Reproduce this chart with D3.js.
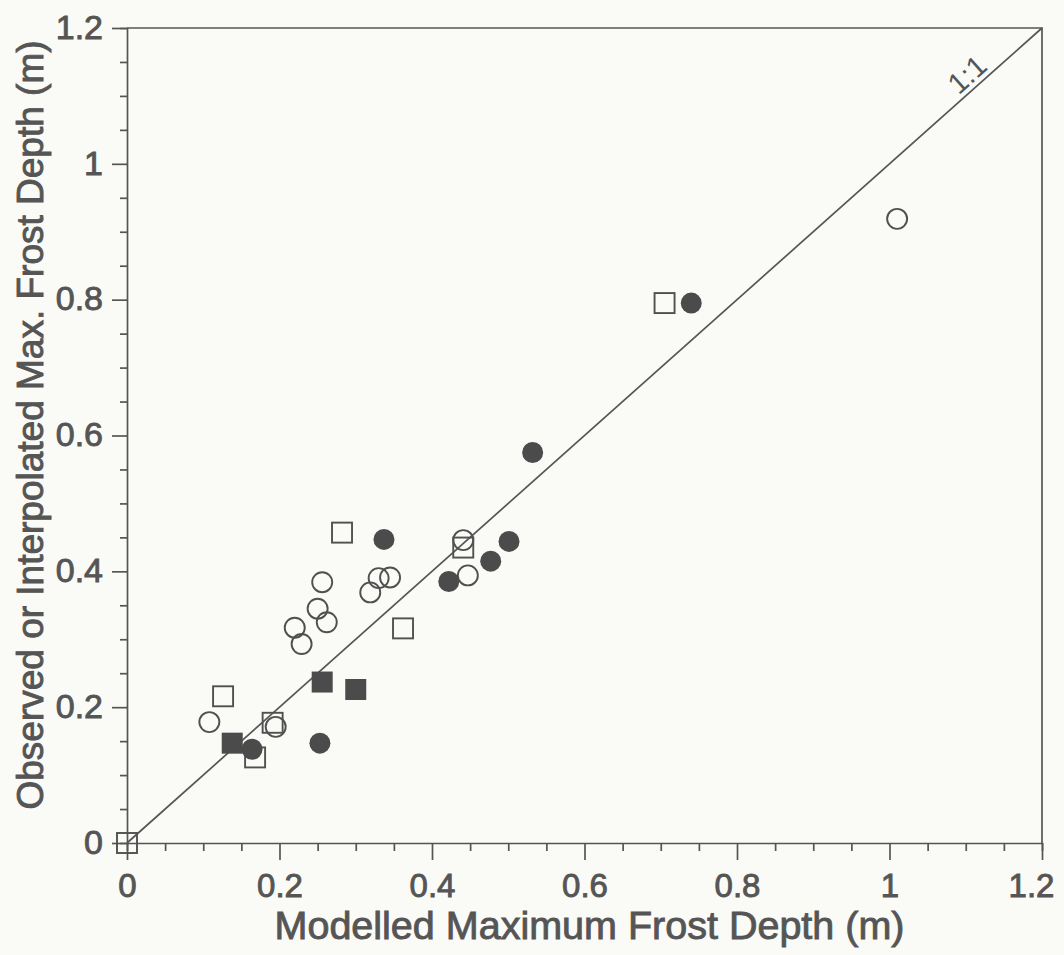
<!DOCTYPE html>
<html lang="en">
<head>
  <meta charset="utf-8">
  <title>Modelled vs observed frost depth</title>
  <script src="https://cdn.jsdelivr.net/npm/d3@7"></script>
</head>
<body>
  <div id="chart"></div>

<style>
body {
  margin: 0;
  background: #fafaf7;
}
svg text {
  font-family: "Liberation Sans", Arial, sans-serif;
  fill: #555;
}
.heavy {
  stroke: #555;
  stroke-width: 0.9;
}
.axis path, .axis line, .frame {
  stroke: #555;
  stroke-width: 1.7;
  fill: none;
}
.open {
  fill: none;
  stroke: #505050;
  stroke-width: 1.9;
}
.filled {
  fill: #4b4b4b;
  stroke: none;
}
</style>

<script>
"use strict"

// [modelled, observed] pairs in metres
var openCircles = [[0.108, 0.178], [0.195, 0.171], [0.220, 0.317], [0.229, 0.293], [0.250, 0.345],
  [0.256, 0.384], [0.262, 0.325], [0.319, 0.369], [0.330, 0.390], [0.345, 0.391],
  [0.441, 0.446], [0.447, 0.394], [1.010, 0.919]];
var filledCircles = [[0.164, 0.138], [0.253, 0.147], [0.337, 0.447], [0.422, 0.385],
  [0.477, 0.415], [0.501, 0.444], [0.532, 0.575], [0.740, 0.795]];
var openSquares = [[0, 0], [0.126, 0.216], [0.168, 0.126], [0.191, 0.177], [0.282, 0.457],
  [0.362, 0.316], [0.441, 0.435], [0.705, 0.795]];
var filledSquares = [[0.138, 0.147], [0.256, 0.237], [0.300, 0.226]];

var majorTicks = [0, 0.2, 0.4, 0.6, 0.8, 1, 1.2];
var tickLabels = ["0", "0.2", "0.4", "0.6", "0.8", "1", "1.2"];
var minorTicks = d3.range(0, 25).map(function(i) { return i * 0.05; });

var xTitle = "Modelled Maximum Frost Depth (m)";
var yTitle = "Observed or Interpolated Max. Frost Depth (m)";

function isMajor(d) {
  return majorTicks.some(function(m) { return Math.abs(m - d) < 1e-6; });
}
function label(d) {
  var i = majorTicks.findIndex(function(m) { return Math.abs(m - d) < 1e-6; });
  return i < 0 ? "" : tickLabels[i];
}

function desenha() {
  var W = 1064, H = 955;
  var margin = {top: 28, right: 22, bottom: 112, left: 127};
  var x = d3.scaleLinear().domain([0, 1.2]).range([margin.left, W - margin.right]);
  var y = d3.scaleLinear().domain([0, 1.2]).range([H - margin.bottom, margin.top]);

  var svg = d3.select("#chart").append("svg")
    .attr("width", W).attr("height", H);

  // frame top / right
  svg.append("path").attr("class", "frame")
    .attr("d", "M" + x(0) + "," + y(1.2) + "H" + x(1.2) + "V" + y(0));

  var gx = svg.append("g").attr("class", "axis")
    .attr("transform", "translate(0," + y(0) + ")")
    .call(d3.axisBottom(x).tickValues(minorTicks).tickSizeOuter(0).tickSize(8).tickFormat(label));
  gx.selectAll(".tick line").attr("y2", function(d) { return isMajor(d) ? 17 : 8; });
  gx.selectAll(".tick text").attr("class", "heavy").attr("y", 54).attr("dy", 0)
    .attr("dx", function(d) { return d > 1.19 ? -11 : 0; })
    .style("font-size", "33px");

  var gy = svg.append("g").attr("class", "axis")
    .attr("transform", "translate(" + x(0) + ",0)")
    .call(d3.axisLeft(y).tickValues(minorTicks).tickSizeOuter(0).tickSize(7).tickFormat(label));
  gy.selectAll(".tick line").attr("x2", function(d) { return isMajor(d) ? -15 : -7; });
  gy.selectAll(".tick text").attr("class", "heavy").attr("x", -24).attr("dy", "0.3em").style("font-size", "34px");

  // 1:1 line
  svg.append("line").attr("class", "frame")
    .attr("x1", x(0)).attr("y1", y(0)).attr("x2", x(1.2)).attr("y2", y(1.2));

  var ang = Math.atan2(y(1.2) - y(0), x(1.2) - x(0)) * 180 / Math.PI;
  svg.append("text")
    .attr("transform", "translate(" + x(1.115) + "," + y(1.115) + ") rotate(" + ang + ")")
    .attr("text-anchor", "middle")
    .attr("dy", -5)
    .style("font-size", "29px")
    .text("1:1");

  svg.selectAll(".oc").data(openCircles).enter().append("circle")
    .attr("class", "open").attr("r", 10)
    .attr("cx", function(d) { return x(d[0]); })
    .attr("cy", function(d) { return y(d[1]); });

  svg.selectAll(".os").data(openSquares).enter().append("rect")
    .attr("class", "open").attr("width", 20).attr("height", 20)
    .attr("x", function(d) { return x(d[0]) - 10; })
    .attr("y", function(d) { return y(d[1]) - 10; });

  svg.selectAll(".fs").data(filledSquares).enter().append("rect")
    .attr("class", "filled").attr("width", 21).attr("height", 21)
    .attr("x", function(d) { return x(d[0]) - 10.5; })
    .attr("y", function(d) { return y(d[1]) - 10.5; });

  svg.selectAll(".fc").data(filledCircles).enter().append("circle")
    .attr("class", "filled").attr("r", 10.5)
    .attr("cx", function(d) { return x(d[0]); })
    .attr("cy", function(d) { return y(d[1]); });

  svg.append("text").attr("class", "heavy")
    .attr("x", (x(0) + x(1.2)) / 2 + 5).attr("y", 939)
    .attr("text-anchor", "middle")
    .style("font-size", "39.5px")
    .text(xTitle);

  svg.append("text").attr("class", "heavy")
    .attr("transform", "translate(43," + 425 + ") rotate(-90)")
    .attr("text-anchor", "middle")
    .style("font-size", "37px")
    .text(yTitle);
}

desenha();
</script>
</body>
</html>
